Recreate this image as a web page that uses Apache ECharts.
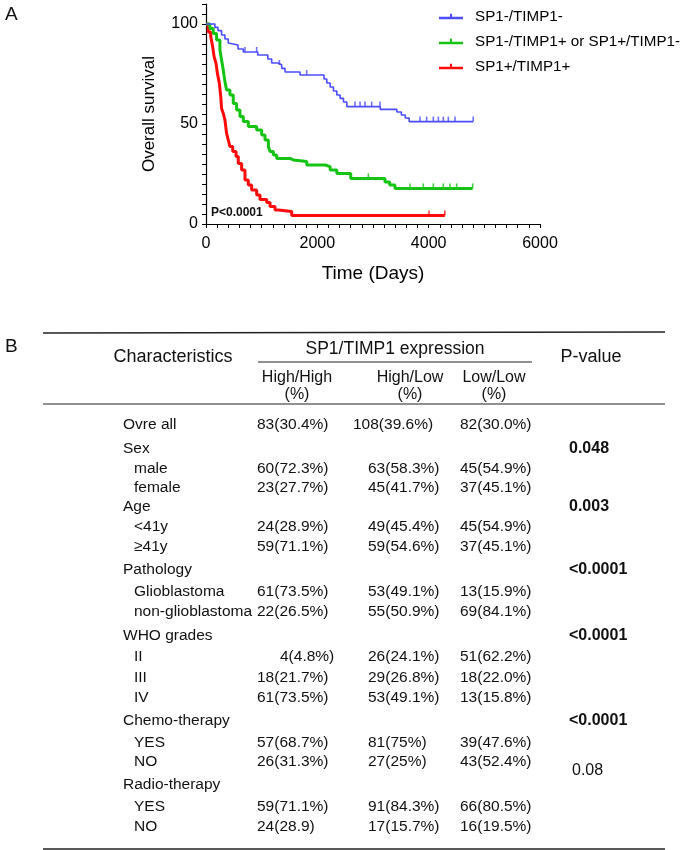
<!DOCTYPE html>
<html><head><meta charset="utf-8">
<script src="https://cdn.jsdelivr.net/npm/echarts@6/dist/echarts.min.js"></script>
<style>html,body{margin:0;padding:0;background:#fff}#c{width:685px;height:850px}</style>
</head><body><div id="c"></div>
<script>
// ---------- Kaplan-Meier data ----------
const seriesNames = ['SP1-/TIMP1-', 'SP1-/TIMP1+ or SP1+/TIMP1-', 'SP1+/TIMP1+'];
const blueDays = [0,160,215,280,340,400,430,575,670,930,1110,1180,1300,1360,1420,1690,2120,2170,2230,2290,2350,2410,2470,2530,3130,3430,3510,3580,3650,4800];
const blueSurv = [100,98.3,96.7,94.5,92.5,90.5,89.5,87.5,86,84.5,82.5,80.5,79.5,77.8,76,74.5,72.5,70.5,68.5,66.5,64.5,62.8,61,58.7,57.3,56,54.5,53,51.2,51.2];
const greenDays = [0,70,130,190,250,280,310,340,370,430,490,550,610,670,760,910,1000,1060,1120,1150,1210,1270,1510,1570,1810,2140,2230,2350,2600,3215,3300,3395,4790];
const greenSurv = [100,97.8,95.3,92,87,82,77,71.2,67,64.5,60.3,57,53.7,51.2,48.7,47,44.5,42,38.7,36.2,34.5,32.8,32,31.2,29.5,28.7,27,25.3,22.8,21,19.5,17.8,17.8];
const redDays = [0,40,85,120,145,180,205,240,265,280,310,340,370,400,430,480,540,580,640,700,760,820,910,970,1090,1150,1240,1300,1540,4290];
const redSurv = [100,96,93.7,88.7,83.7,80.3,75.3,70.3,63.7,57.8,55.3,52,45.3,42,38.7,36.2,33.7,30.3,27,22,19.5,17,14.5,12.3,10.7,8.7,7,6.2,4.2,4.2];
const blueCensor = [700,910,1318,1808,2677,2767,2856,2976,3126,3844,3964,4084,4174,4263,4353,4473,4800];
const greenCensor = [2916,3665,3904,4084,4263,4383,4503,4790];
const redCensor = [4006,4290];
const xTickLabels = [0,2000,4000,6000];
const yTickLabels = [0,50,100];

// ---------- Table data ----------
const rowLabels = ['Ovre all','Sex','male','female','Age','<41y','\u226541y','Pathology','Glioblastoma','non-glioblastoma','WHO grades','II','III','IV','Chemo-therapy','YES','NO','Radio-therapy','YES','NO'];
const rowIsSub = [0,0,1,1,0,1,1,0,1,1,0,1,1,1,0,1,1,0,1,1];
const highHigh = ['83(30.4%)','','60(72.3%)','23(27.7%)','','24(28.9%)','59(71.1%)','','61(73.5%)','22(26.5%)','','4(4.8%)','18(21.7%)','61(73.5%)','','57(68.7%)','26(31.3%)','','59(71.1%)','24(28.9)'];
const highLow = ['108(39.6%)','','63(58.3%)','45(41.7%)','','49(45.4%)','59(54.6%)','','53(49.1%)','55(50.9%)','','26(24.1%)','29(26.8%)','53(49.1%)','','81(75%)','27(25%)','','91(84.3%)','17(15.7%)'];
const lowLow = ['82(30.0%)','','45(54.9%)','37(45.1%)','','45(54.9%)','37(45.1%)','','13(15.9%)','69(84.1%)','','51(62.2%)','18(22.0%)','13(15.8%)','','39(47.6%)','43(52.4%)','','66(80.5%)','16(19.5%)'];
const pValues = ['','0.048','','','0.003','','','<0.0001','','','<0.0001','','','','<0.0001','','','0.08','',''];
const pBold = [0,1,0,0,1,0,0,1,0,0,1,0,0,0,1,0,0,0,0,0];
const headerMain = ['Characteristics','SP1/TIMP1 expression','P-value'];
const headerSub = ['High/High','High/Low','Low/Low'];

// ---------- layout (positions only) ----------
const FONT = '"Liberation Sans", Arial, sans-serif';
const BODY = '15.5px ' + FONT;
const rowY = [425,449,469,488,507,527,547,570,592,612,636,657,678,698,721,743,762,785,807,827];
const pY = {17: 771};
const colLeft = [257,368,460];
const specialPos = {'0,1': 353, '11,0': 280};

function pairs(d, s){ return d.map((v,i)=>[v, s[i]]); }
function survAt(d, s, t){ let v = s[0]; for (let i=0;i<d.length;i++){ if (d[i] <= t) v = s[i]; } return v; }
function censorPts(c, d, s){ return c.map(t => [t, survAt(d, s, t)]); }

const colors = ['#4d4dff', '#14c314', '#ff0a0a'];
const widths = [1.6, 3, 3];
const curves = [[blueDays, blueSurv, blueCensor],[greenDays, greenSurv, greenCensor],[redDays, redSurv, redCensor]];

const series = [];
curves.forEach((c, i) => {
  series.push({
    name: seriesNames[i], type: 'line', step: 'end', data: pairs(c[0], c[1]),
    showSymbol: false, symbol: 'none', lineStyle: {color: colors[i], width: widths[i]},
    itemStyle: {color: colors[i]}, animation: false, z: 3 - i + 2
  });
  series.push({
    name: seriesNames[i], type: 'scatter', data: censorPts(c[2], c[0], c[1]),
    symbol: 'rect', symbolSize: [1.6, 5], symbolOffset: [0, -2.5],
    itemStyle: {color: colors[i]}, animation: false, silent: true, z: 3 - i + 2
  });
});

// ---------- table graphics ----------
const g = [];
function txt(x, y, s, opt){
  g.push({type:'text', x:x, y:y, silent:true, style: Object.assign({text:s, fill:'#111', font:BODY, textAlign:'left', textVerticalAlign:'middle'}, opt||{})});
}
function line(x1,y1,x2,y2,w){
  g.push({type:'line', silent:true, shape:{x1:x1,y1:y1,x2:x2,y2:y2}, style:{stroke:'#222', lineWidth:w||1.2}});
}
txt(5, 15, 'A', {font:'19px '+FONT});
txt(5, 347, 'B', {font:'19px '+FONT});
txt(211, 213, 'P<0.0001', {font:'bold 12px '+FONT});
line(43, 333, 665, 332, 1.4);
line(258, 362, 532, 362, 1.2);
line(43, 404, 665, 404, 1.2);
line(43, 849, 665, 849, 1.4);
txt(173, 357, headerMain[0], {font:'18px '+FONT, textAlign:'center'});
txt(395, 349, headerMain[1], {font:'17.5px '+FONT, textAlign:'center'});
txt(591, 357, headerMain[2], {font:'18px '+FONT, textAlign:'center'});
const subX = [297, 410, 494];
headerSub.forEach((s, i) => {
  txt(subX[i], 378, s, {font:'16px '+FONT, textAlign:'center'});
  txt(subX[i], 395, '(%)', {font:'16px '+FONT, textAlign:'center'});
});
const cols = [highHigh, highLow, lowLow];
rowLabels.forEach((lab, r) => {
  txt(rowIsSub[r] ? 134 : 123, rowY[r], lab);
  cols.forEach((col, c) => {
    if (!col[r]) return;
    const key = r + ',' + c;
    txt(specialPos[key] !== undefined ? specialPos[key] : colLeft[c], rowY[r], col[r]);
  });
  if (pValues[r]) {
    const y = pY[r] !== undefined ? pY[r] : rowY[r];
    if (pBold[r]) txt(569, y, pValues[r], {font:'bold 16px '+FONT});
    else txt(572, y, pValues[r], {font:'16px '+FONT});
  }
});

const chart = echarts.init(document.getElementById('c'), null, {renderer:'canvas'});
chart.setOption({
  animation: false,
  backgroundColor: '#fff',
  textStyle: {fontFamily: FONT},
  grid: {left: 206, top: 4, width: 334, height: 220, containLabel: false},
  legend: {
    orient: 'vertical', left: 434, top: 4, itemGap: 10, itemWidth: 24, itemHeight: 8,
    data: seriesNames.map((n, i) => ({name: n, icon: 'path://M0,5 H24 V7.5 H0 Z M11,2 H13 V6 H11 Z'})),
    textStyle: {fontSize: 15.2, color: '#000', fontFamily: FONT, padding: [0,0,0,7]}, selectedMode: false
  },
  xAxis: {
    type: 'value', min: 0, max: 6000, interval: 200,
    name: 'Time (Days)', nameLocation: 'middle', nameGap: 40,
    nameTextStyle: {fontSize: 19, color: '#000', fontFamily: FONT},
    axisLine: {show: true, lineStyle: {color: '#000', width: 1.2}},
    axisTick: {show: true, length: 4, lineStyle: {color: '#000'}},
    axisLabel: {fontSize: 16, color: '#000', margin: 12, formatter: v => xTickLabels.indexOf(v) >= 0 ? String(v) : ''},
    splitLine: {show: false}
  },
  yAxis: {
    type: 'value', min: 0, max: 110, interval: 5,
    name: 'Overall survival', nameLocation: 'middle', nameGap: 48,
    nameTextStyle: {fontSize: 17, color: '#000', fontFamily: FONT},
    axisLine: {show: true, lineStyle: {color: '#000', width: 1.2}},
    axisTick: {show: true, length: 4, lineStyle: {color: '#000'}},
    axisLabel: {fontSize: 16, color: '#000', margin: 8, formatter: v => yTickLabels.indexOf(v) >= 0 ? String(v) : ''},
    splitLine: {show: false}
  },
  series: series,
  graphic: g
});
</script>
</body></html>
